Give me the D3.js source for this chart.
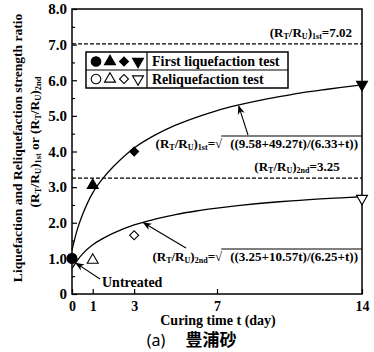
<!DOCTYPE html>
<html>
<head>
<meta charset="utf-8">
<script src="https://cdn.jsdelivr.net/npm/d3@7"></script>
<style>
  body { margin: 0; background: #fff; }
  svg { display: block; }
  text { font-family: "Liberation Serif", "Times New Roman", serif; font-weight: bold; fill: #000; }
</style>
</head>
<body>
<div id="chart"></div>
<script>
// curing time (day) of each test point
var curingDays = [0, 1, 3, 14];
// first liquefaction test (filled symbols)
var firstRatio = [1.0, 3.05, 4.0, 5.88];
// reliquefaction test (open symbols)
var reliqRatio = [1.0, 0.95, 1.65, 2.68];

// fitted curves
var curveDays = [0, 0.25, 0.5, 1, 1.5, 2, 3, 4, 5, 6, 7, 8, 9, 10, 11, 12, 13, 14];
var firstCurve = [1.23, 1.8, 2.22, 2.84, 3.25, 3.58, 4.1, 4.46, 4.74, 4.96, 5.15, 5.3, 5.43, 5.54, 5.64, 5.72, 5.8, 5.87];
var reliqCurve = [0.72, 0.94, 1.12, 1.38, 1.56, 1.71, 1.94, 2.1, 2.23, 2.33, 2.41, 2.48, 2.54, 2.59, 2.63, 2.67, 2.7, 2.73];

// horizontal limit lines
var firstLimit = 7.02;
var reliqLimit = 3.25;

var xTicks = [0, 1, 3, 7, 14];
var yTicks = [0, 1, 2, 3, 4, 5, 6, 7, 8];
var yMinor = [0.5, 1.5, 2.5, 3.5, 4.5, 5.5, 6.5, 7.5];

var W = 374, H = 352;
var margin = {top: 9, right: 12, bottom: 58, left: 72};

var svg = d3.select("#chart").append("svg")
  .attr("width", W).attr("height", H);

var x = d3.scaleLinear().domain([0, 14]).range([margin.left, W - margin.right]);
var y = d3.scaleLinear().domain([0, 8]).range([H - margin.bottom, margin.top]);

// arrow head
svg.append("defs").append("marker")
  .attr("id", "arr").attr("viewBox", "0 0 10 10")
  .attr("refX", 9).attr("refY", 5)
  .attr("markerWidth", 9).attr("markerHeight", 9)
  .attr("markerUnits", "userSpaceOnUse")
  .attr("orient", "auto")
  .append("path").attr("d", "M0,1 L10,5 L0,9 L3,5 Z").attr("fill", "#000");

// axes
var yAxis = svg.append("g")
  .attr("transform", "translate(" + margin.left + ",0)")
  .call(d3.axisLeft(y).tickValues(yTicks).tickSize(-5).tickPadding(5)
    .tickFormat(function(d){ return d === 0 ? "0" : d.toFixed(1); }));
yAxis.selectAll("text").style("font-size", "15px");

svg.append("g")
  .attr("transform", "translate(" + margin.left + ",0)")
  .call(d3.axisLeft(y).tickValues(yMinor).tickSize(-3).tickFormat(""))
  .select(".domain").remove();

var xAxis = svg.append("g")
  .attr("transform", "translate(0," + y(0) + ")")
  .call(d3.axisBottom(x).tickValues(xTicks).tickSize(-5).tickPadding(7));
xAxis.selectAll("text").style("font-size", "14px");

svg.selectAll(".domain").remove();
svg.selectAll(".tick line").attr("stroke", "#000").attr("stroke-width", 1.2);

// frame
svg.append("rect")
  .attr("x", x(0)).attr("y", y(8))
  .attr("width", x(14) - x(0)).attr("height", y(0) - y(8))
  .attr("fill", "none").attr("stroke", "#000").attr("stroke-width", 1.5);

// dashed limit lines
[firstLimit, reliqLimit].forEach(function(v){
  svg.append("line")
    .attr("x1", x(0)).attr("x2", x(14))
    .attr("y1", y(v)).attr("y2", y(v))
    .attr("stroke", "#000").attr("stroke-width", 1.3)
    .attr("stroke-dasharray", "4,2");
});

// fitted curves
var line = d3.line()
  .x(function(d){ return x(d[0]); })
  .y(function(d){ return y(d[1]); })
  .curve(d3.curveCatmullRom);

[firstCurve, reliqCurve].forEach(function(c){
  svg.append("path")
    .datum(d3.zip(curveDays, c))
    .attr("d", line)
    .attr("fill", "none").attr("stroke", "#000").attr("stroke-width", 1.3);
});

// symbols
var symTypes = [d3.symbolCircle, d3.symbolTriangle, d3.symbolSquare, d3.symbolTriangle];
var symSizes = [72, 52, 40, 52];
var symRot = [0, 0, 45, 180];

function drawSym(g, i, cx, cy, filled) {
  g.append("path")
    .attr("d", d3.symbol().type(symTypes[i]).size(symSizes[i]))
    .attr("transform", "translate(" + cx + "," + cy + ") rotate(" + symRot[i] + ")")
    .attr("fill", filled ? "#000" : "#fff")
    .attr("stroke", "#000").attr("stroke-width", 1.1);
}

reliqRatio.forEach(function(v, i){ drawSym(svg, i, x(curingDays[i]), y(v), false); });
firstRatio.forEach(function(v, i){ drawSym(svg, i, x(curingDays[i]), y(v), true); });

// legend
var lg = svg.append("g");
var lx = 86, ly = 52, lw = 202, lh = 36, ld = 147;
lg.append("rect").attr("x", lx).attr("y", ly).attr("width", lw).attr("height", lh)
  .attr("fill", "#fff").attr("stroke", "#000").attr("stroke-width", 1.5);
lg.append("line").attr("x1", lx).attr("x2", lx + lw).attr("y1", ly + lh / 2).attr("y2", ly + lh / 2)
  .attr("stroke", "#000").attr("stroke-width", 1.2);
lg.append("line").attr("x1", ld).attr("x2", ld).attr("y1", ly).attr("y2", ly + lh)
  .attr("stroke", "#000").attr("stroke-width", 1.2);
[0, 1, 2, 3].forEach(function(i){
  drawSym(lg, i, 96 + i * 14, ly + 9.5, true);
  drawSym(lg, i, 96 + i * 14, ly + 27, false);
});
lg.append("text").attr("x", ld + 5).attr("y", ly + 14).style("font-size", "14px").text("First liquefaction test");
lg.append("text").attr("x", ld + 5).attr("y", ly + 32).style("font-size", "14px").text("Reliquefaction test");

// R_T/R_U label with subscripts
function ratioLabel(t, sub, rest, size) {
  var s = size * 0.62;
  t.append("tspan").text("(R");
  t.append("tspan").attr("dy", 2).style("font-size", s + "px").text("T");
  t.append("tspan").attr("dy", -2).text("/R");
  t.append("tspan").attr("dy", 2).style("font-size", s + "px").text("U");
  t.append("tspan").attr("dy", -2).text(")");
  t.append("tspan").attr("dy", 2).style("font-size", s + "px").text(sub);
  t.append("tspan").attr("dy", -2).text(rest);
}

var t1 = svg.append("text").attr("x", 352).attr("y", y(firstLimit) - 7)
  .attr("text-anchor", "end").style("font-size", "13px");
ratioLabel(t1, "1st", "=7.02", 13);

var t2 = svg.append("text").attr("x", 297).attr("y", y(reliqLimit) - 7)
  .attr("text-anchor", "middle").style("font-size", "13px");
ratioLabel(t2, "2nd", "=3.25", 13);

// formula with radical
function formula(sub, body, baseY) {
  var fx = x(14) - 4;
  var b = svg.append("text").attr("x", fx).attr("y", baseY)
    .attr("text-anchor", "end").style("font-size", "13px").text(body);
  var bw = b.node().getComputedTextLength();
  var rx = fx - bw - 8;
  var r = svg.append("text").attr("x", rx).attr("y", baseY)
    .attr("text-anchor", "end").style("font-size", "13px");
  ratioLabel(r, sub, "=\u221A", 13);
  svg.append("line").attr("x1", rx - 1).attr("x2", x(14))
    .attr("y1", baseY - 12).attr("y2", baseY - 12)
    .attr("stroke", "#000").attr("stroke-width", 1.1);
}
formula("1st", "((9.58+49.27t)/(6.33+t))", 148);
formula("2nd", "((3.25+10.57t)/(6.25+t))", 261);

// arrows
function arrow(x1, y1, x2, y2) {
  svg.append("line").attr("x1", x1).attr("y1", y1).attr("x2", x2).attr("y2", y2)
    .attr("stroke", "#000").attr("stroke-width", 1.1).attr("marker-end", "url(#arr)");
}
arrow(248, 135, x(8.05), y(5.3) + 1);
arrow(186, 248, x(3.45), y(2.03) + 1);
arrow(100, 279, x(0) + 4, y(0.95) + 3);

svg.append("text").attr("x", 102).attr("y", 287).style("font-size", "14px").text("Untreated");

// axis titles
svg.append("text").attr("x", 218).attr("y", 325).attr("text-anchor", "middle")
  .style("font-size", "14px").text("Curing time  t (day)");

svg.append("text").attr("x", 156).attr("y", 346).attr("text-anchor", "middle")
  .style("font-family", "'Noto Sans', sans-serif").style("font-weight", "normal")
  .style("font-size", "16px").text("(a)");
svg.append("text").attr("x", 211).attr("y", 346).attr("text-anchor", "middle")
  .style("font-family", "'Noto Sans CJK JP', sans-serif").style("font-weight", "bold")
  .style("font-size", "17px").text("豊浦砂");

svg.append("text").attr("transform", "translate(22,148) rotate(-90)")
  .attr("text-anchor", "middle").style("font-size", "13.5px")
  .text("Liquefaction and Reliquefaction strength ratio");

var yt2 = svg.append("text").attr("transform", "translate(39,142) rotate(-90)")
  .attr("text-anchor", "middle").style("font-size", "13.5px");
ratioLabel(yt2, "1st", " or ", 13.5);
yt2.append("tspan").text("(R");
yt2.append("tspan").attr("dy", 2).style("font-size", "8.4px").text("T");
yt2.append("tspan").attr("dy", -2).text("/R");
yt2.append("tspan").attr("dy", 2).style("font-size", "8.4px").text("U");
yt2.append("tspan").attr("dy", -2).text(")");
yt2.append("tspan").attr("dy", 2).style("font-size", "8.4px").text("2nd");
</script>
</body>
</html>
